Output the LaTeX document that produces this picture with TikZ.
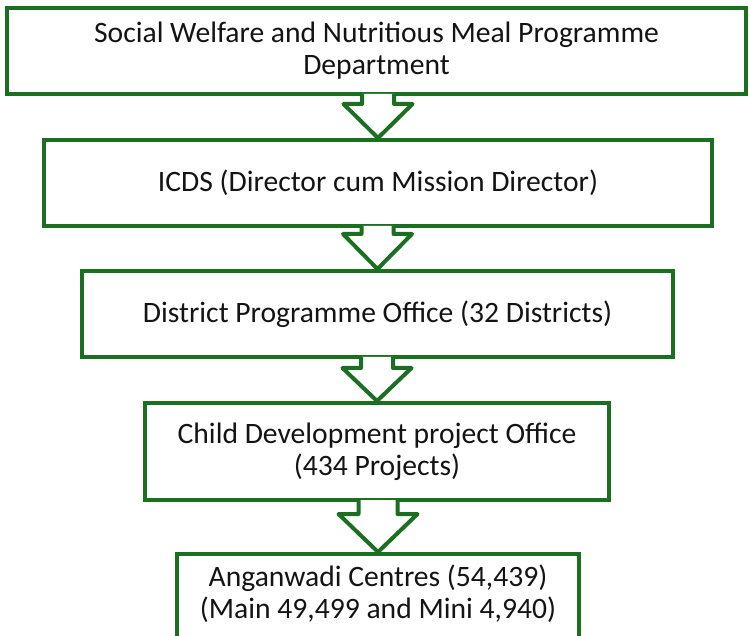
\documentclass[tikz,border=0pt]{standalone}
\usepackage{fontspec}
\setmainfont{Carlito}
\usetikzlibrary{calc}
\definecolor{orggreen}{RGB}{26,112,32}
\definecolor{orgtext}{RGB}{20,20,20}
\tikzset{
  orgfont/.style={text=orgtext, font=\fontsize{29.6}{32}\selectfont},
  orgbox/.style={draw=orggreen, line width=4pt, fill=white, inner sep=0pt,
    align=center, orgfont},
  flowline/.style={draw=orggreen, line width=4pt, line join=round},
}
% hollow block arrow hanging from the bottom of #1 with its point on the top of #2
% #3 shaft half-width, #4 head half-width, #5 head height
\newcommand{\flowarrow}[5]{%
  \fill[white] let \p1=(#1.south), \p2=(#2.north) in
    (\x2-#3,\y1+2pt) -- (\x2-#3,\y2+#5) -- (\x2-#4,\y2+#5) -- (\x2,\y2)
    -- (\x2+#4,\y2+#5) -- (\x2+#3,\y2+#5) -- (\x2+#3,\y1+2pt) -- cycle;
  \draw[flowline] let \p1=(#1.south), \p2=(#2.north) in
    (\x2-#3,\y1+2pt) -- (\x2-#3,\y2+#5) -- (\x2-#4,\y2+#5) -- (\x2,\y2)
    -- (\x2+#4,\y2+#5) -- (\x2+#3,\y2+#5) -- (\x2+#3,\y1+2pt);
}
\begin{document}
\begin{tikzpicture}[x=1pt,y=1pt]
  \useasboundingbox (0,0) rectangle (749,635);
  \clip (0,0) rectangle (749,635);
  \fill[white] (0,0) rectangle (749,635);

  \node[orgbox, minimum width=739pt, minimum height=86pt] (b1) at (376.5,584)
    {Social Welfare and Nutritious Meal Programme\\Department};
  \node[orgbox, minimum width=668pt, minimum height=86pt] (b2) at (378,452)
    {ICDS (Director cum Mission Director)};
  \node[orgbox, minimum width=591pt, minimum height=86pt] (b3) at (377.5,321)
    {District Programme Office (32 Districts)};
  \node[orgbox, minimum width=464pt, minimum height=97pt] (b4) at (377,183.5)
    {Child Development project Office\\(434 Projects)};
  \node[orgbox, minimum width=402pt, minimum height=130pt, anchor=north] (b5) at (378,83)
    {};
  \node[orgfont, align=center] (t5) at (378,41)
    {Anganwadi Centres (54,439)\\(Main 49,499 and Mini 4,940)};

  \flowarrow{b1}{b2}{16pt}{34.5pt}{34pt}
  \flowarrow{b2}{b3}{16pt}{34.5pt}{35pt}
  \flowarrow{b3}{b4}{16pt}{34.5pt}{33pt}
  \flowarrow{b4}{b5}{19.5pt}{39.5pt}{38pt}
\end{tikzpicture}
\end{document}
